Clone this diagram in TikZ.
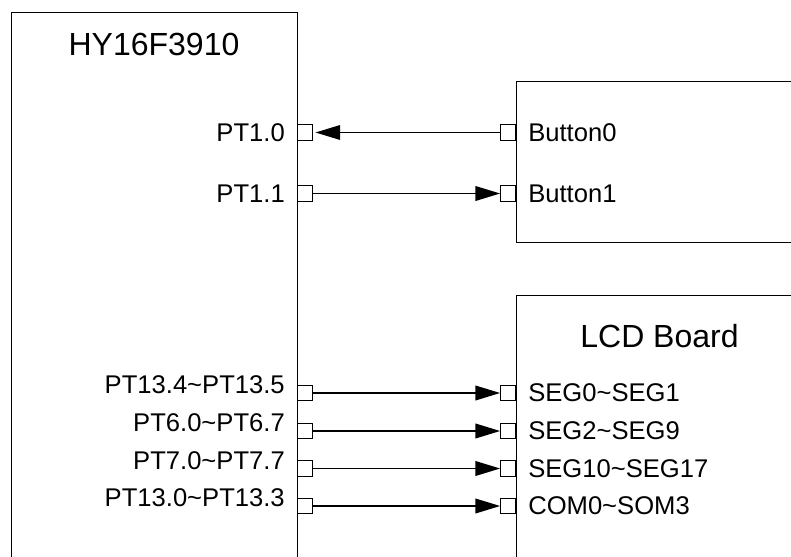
\documentclass[tikz,border=0pt]{standalone}
\usepackage{fontspec}
\setmainfont{Liberation Sans}
\usetikzlibrary{arrows.meta}
\newcommand{\tld}{\textasciitilde}
\begin{document}
\begin{tikzpicture}[
    x=0.75pt, y=-0.75pt,
    box/.style={draw, line width=1pt, anchor=north west,
                minimum width=214.5pt, inner sep=0pt},
    pin/.style={draw, line width=0.9pt, fill=white,
                minimum width=11pt, minimum height=11.5pt, inner sep=0pt},
    title/.style={font=\fontsize{24}{28}\selectfont},
    lab/.style={font=\fontsize{19.2}{22}\selectfont, inner sep=0pt},
    arr/.style={-{Triangle[length=18.5pt, width=11pt]}, line width=1.1pt},
]
\useasboundingbox (0,0) rectangle (791,556);
\clip (0,0) rectangle (791,556);

% Three boards, cut off by the page edge
\node[box, minimum height=441pt] (MCU) at (11,12) {};
\node[box, minimum height=120.75pt] (BTN) at (516,81) {};
\node[box, minimum height=229pt] (LCD) at (516,295) {};

\node[title] (MCUname) at (154,44.5) {HY16F3910};
\node[title] (LCDname) at (659.5,336) {LCD Board};

% Pins on the MCU side
\node[pin, anchor=west] (P10) at (297,132.5) {};
\node[pin, anchor=west] (P11) at (297,193.5) {};
\node[pin, anchor=west] (P134) at (297,393) {};
\node[pin, anchor=west] (P60) at (297,431) {};
\node[pin, anchor=west] (P70) at (297,468.5) {};
\node[pin, anchor=west] (P130) at (297,506) {};

\node[lab, anchor=east] (P10lab) at (285,132.5) {PT1.0};
\node[lab, anchor=east] (P11lab) at (285,193.5) {PT1.1};
\node[lab, anchor=east] (P134lab) at (285,385) {PT13.4\tld PT13.5};
\node[lab, anchor=east] (P60lab) at (285,423) {PT6.0\tld PT6.7};
\node[lab, anchor=east] (P70lab) at (285,460.5) {PT7.0\tld PT7.7};
\node[lab, anchor=east] (P130lab) at (285,498) {PT13.0\tld PT13.3};

% Pins on the button and LCD side
\node[pin, anchor=east] (B0) at (516,132.5) {};
\node[pin, anchor=east] (B1) at (516,193.5) {};
\node[pin, anchor=east] (S0) at (516,393) {};
\node[pin, anchor=east] (S2) at (516,431) {};
\node[pin, anchor=east] (S10) at (516,468.5) {};
\node[pin, anchor=east] (C0) at (516,506) {};

\node[lab, anchor=west] (B0lab) at (528,132.5) {Button0};
\node[lab, anchor=west] (B1lab) at (528,193.5) {Button1};
\node[lab, anchor=west] (S0lab) at (528,393) {SEG0\tld SEG1};
\node[lab, anchor=west] (S2lab) at (528,431) {SEG2\tld SEG9};
\node[lab, anchor=west] (S10lab) at (528,468.5) {SEG10\tld SEG17};
\node[lab, anchor=west] (C0lab) at (528,506) {COM0\tld SOM3};

% Signal lines
\draw[arr, shorten >=2pt] (B0) -- (P10);
\draw[arr] (P11) -- (B1);
\draw[arr] (P134) -- (S0);
\draw[arr] (P60) -- (S2);
\draw[arr] (P70) -- (S10);
\draw[arr] (P130) -- (C0);

\end{tikzpicture}
\end{document}
